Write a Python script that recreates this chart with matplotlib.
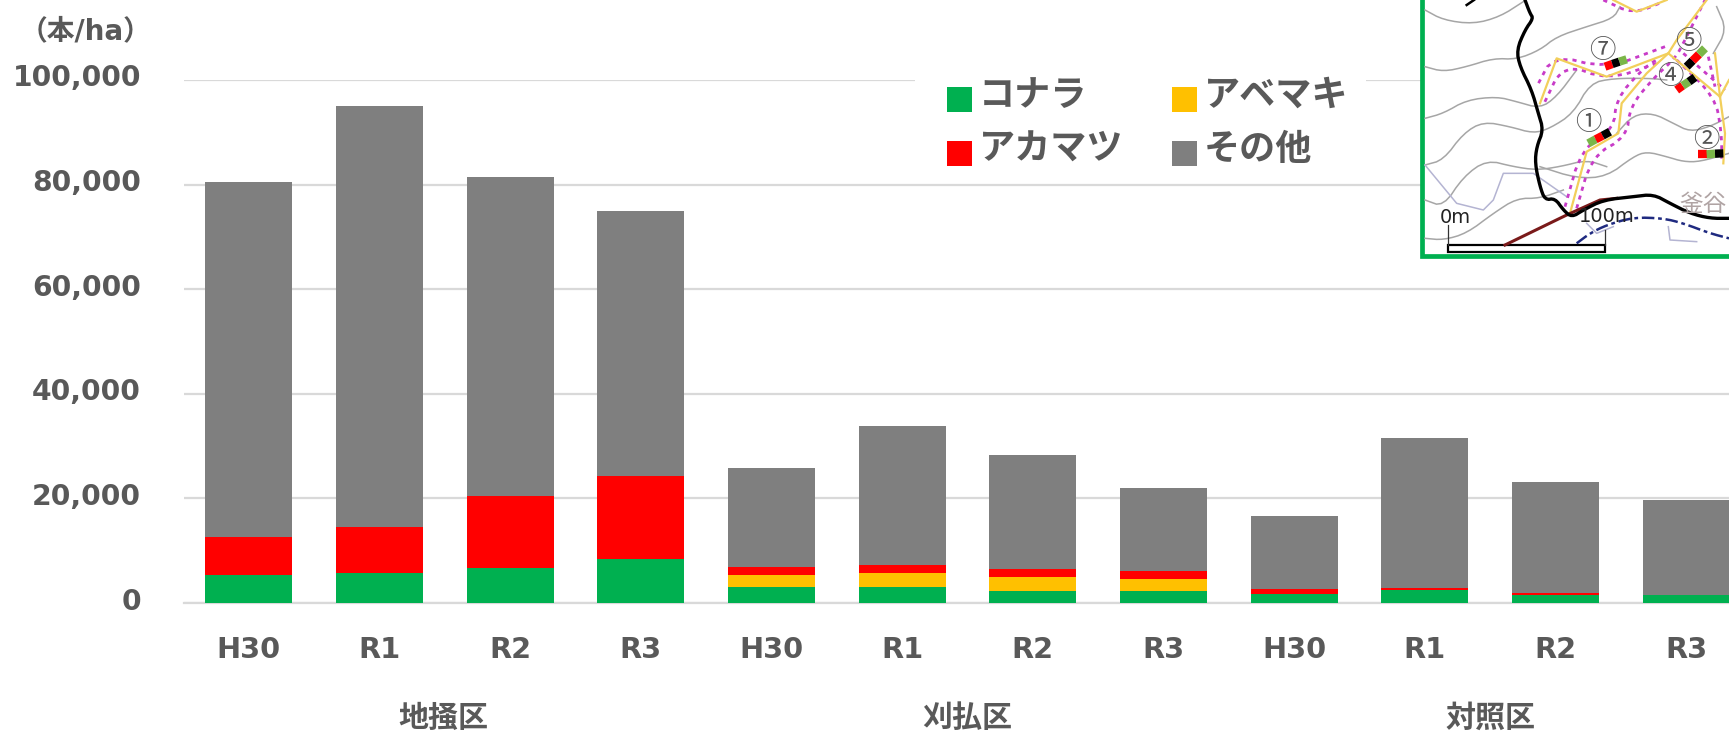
import matplotlib
matplotlib.use("Agg")
import numpy as np
import matplotlib.pyplot as plt
from matplotlib.patches import Rectangle
from matplotlib.transforms import ScaledTranslation

plt.rcParams['font.family'] = ['DejaVu Sans', 'Noto Sans CJK JP']

TEXT = '#595959'
GREEN = '#00B050'
YELLOW = '#FFC000'
RED = '#FF0000'
GRAY = '#7F7F7F'

years = ['H30', 'R1', 'R2', 'R3', 'H30', 'R1', 'R2', 'R3', 'H30', 'R1', 'R2', 'R3']
groups = ['地掻区', '刈払区', '対照区']
konara = [5300, 5800, 6600, 8500, 3000, 3000, 2200, 2200, 1800, 2400, 1500, 1500]
abemaki = [0, 0, 0, 0, 2300, 2700, 2800, 2300, 0, 0, 0, 0]
akamatsu = [7400, 8800, 13800, 15800, 1600, 1500, 1500, 1600, 900, 400, 500, 0]
sonota = [67800, 80400, 61100, 50700, 19000, 26700, 21800, 15800, 13900, 28800, 21100, 18200]
yticks = [0, 20000, 40000, 60000, 80000, 100000]

# site map sketch, coordinates in map crop units (3 units = 1 px)
contours = [
    [(75, 30), (130, 60), (220, 72), (300, 50), (370, 5)],
    [(75, 200), (130, 215), (200, 200), (280, 175), (350, 178), (420, 150), (470, 110), (560, 80), (640, 55), (660, 20)],
    [(75, 355), (130, 340), (200, 300), (290, 290), (350, 305), (420, 325), (470, 290), (530, 210)],
    [(75, 495), (130, 480), (190, 400), (250, 365), (330, 380), (400, 400), (450, 385), (520, 340), (570, 250), (640, 235), (750, 235), (800, 240)],
    [(75, 600), (130, 620), (190, 530), (260, 480), (340, 500), (410, 510), (480, 500), (560, 480), (620, 500)],
    [(420, 500), (530, 535), (620, 530), (700, 470), (740, 455), (800, 470), (850, 485), (900, 485), (987, 460)],
    [(650, 400), (700, 345), (760, 340), (820, 370), (870, 395), (930, 380), (987, 350)],
    [(75, 715), (130, 720), (200, 700), (280, 640), (350, 595), (420, 595), (490, 570)],
    [(940, 160), (980, 90), (950, 20)],
]
streams = [
    [(75, 495), (170, 610), (250, 630), (280, 600), (310, 520), (400, 520), (500, 590)],
    [(805, 680), (810, 720), (890, 725)],
    [(560, 670), (590, 700), (640, 680)],
]
boundary = [(375, 0), (390, 40), (400, 55), (375, 90), (350, 150), (360, 200), (395, 270), (415, 340), (430, 390),
            (410, 440), (405, 490), (420, 560), (435, 600), (465, 595), (490, 630), (515, 652), (550, 630), (610, 600),
            (700, 590), (760, 583), (810, 610), (870, 640), (930, 655), (987, 655)]
road = [(315, 735), (500, 645), (600, 600), (650, 595)]
river = [(530, 730), (570, 700), (620, 675), (700, 652), (790, 655), (850, 670), (930, 700), (987, 715)]
trails = [
    [(510, 640), (560, 455), (655, 400), (665, 310), (740, 220), (805, 160), (830, 120), (890, 40), (920, 0)],
    [(805, 160), (620, 230), (470, 175), (420, 310)],
    [(805, 160), (960, 290), (975, 400), (970, 490)],
    [(640, 0), (710, 35), (800, 0)],
    [(960, 290), (987, 240)],
    [(945, 160), (960, 290)],
]
fences = [
    [(530, 625), (575, 470), (680, 410), (690, 320), (760, 235), (825, 175), (850, 130), (915, 0)],
    [(495, 620), (545, 445), (640, 390), (650, 295), (725, 210), (775, 175)],
    [(795, 140), (620, 205), (460, 165), (410, 260)],
    [(770, 190), (625, 240), (490, 190), (430, 315)],
    [(610, 0), (700, 42), (790, 5)],
    [(830, 180), (945, 290), (965, 400), (965, 490)],
    [(850, 160), (975, 270)],
    [(925, 170), (945, 260)],
]
plots = [
    ([(565, 430), (587, 418), (608, 407), (630, 395)], ['#7AB648', RED, 'black']),
    ([(895, 463), (920, 463), (945, 461), (970, 460)], [RED, '#7AB648', 'black']),
    ([(615, 200), (637, 192), (658, 185), (680, 178)], [RED, 'black', '#7AB648']),
    ([(830, 270), (848, 257), (867, 245), (885, 232)], [RED, '#7AB648', 'black']),
    ([(860, 200), (878, 182), (897, 163), (915, 145)], ['black', RED, '#7AB648']),
]
plot_numbers = [('①', 565, 368), ('②', 918, 418), ('⑦', 606, 152), ('④', 812, 230), ('⑤', 866, 124)]


def smooth(pts, n=2):
    # corner cutting so the sketched lines do not look angular
    pts = np.array(pts, dtype=float)
    for _ in range(n):
        a = pts[:-1] * 0.75 + pts[1:] * 0.25
        b = pts[:-1] * 0.25 + pts[1:] * 0.75
        mid = np.empty((len(a) * 2, 2))
        mid[0::2] = a
        mid[1::2] = b
        pts = np.vstack([pts[:1], mid, pts[-1:]])
    return pts


def line(ax, pts, curve=False, **kw):
    p = smooth(pts) if curve else np.array(pts)
    ax.plot(p[:, 0], p[:, 1], **kw)


fig = plt.figure(figsize=(17.29, 7.31), dpi=100)
ax = fig.add_axes([184 / 1729, (731 - 603) / 731, 1 - 184 / 1729, 523 / 731])

x = np.arange(len(years))
bottom = np.zeros(len(years))
for vals, col in [(konara, GREEN), (abemaki, YELLOW), (akamatsu, RED), (sonota, GRAY)]:
    ax.bar(x, vals, width=0.666, bottom=bottom, color=col, zorder=3)
    bottom += np.array(vals)

ax.set_xlim((184 - 248.7) / 130.67, (1729 - 248.7) / 130.67)
ax.set_ylim(0, 100000)
ax.set_yticks(yticks)
ax.set_yticklabels([f'{v:,}' for v in yticks])
ax.set_xticks(x)
ax.set_xticklabels(years)
ax.tick_params(length=0, labelcolor=TEXT)
ax.tick_params(axis='y', pad=31, labelsize=20.3)
ax.tick_params(axis='x', pad=23.5, labelsize=20.8)
for lab in ax.get_yticklabels():
    lab.set_fontweight('bold')
    lab.set_transform(lab.get_transform() + ScaledTranslation(0, 0.045, fig.dpi_scale_trans))
for lab in ax.get_xticklabels():
    lab.set_fontweight('bold')
ax.grid(axis='y', color='#D9D9D9', lw=1.6, zorder=0)
ax.set_axisbelow(True)
for s in ax.spines.values():
    s.set_visible(False)
ax.spines['bottom'].set_visible(True)
ax.spines['bottom'].set_color('#D9D9D9')
ax.spines['bottom'].set_linewidth(1.6)

# overlay in pixel coordinates for legend, unit and group names
ov = fig.add_axes([0, 0, 1, 1], zorder=5)
ov.set_xlim(0, 1729)
ov.set_ylim(731, 0)
ov.axis('off')
ov.patch.set_alpha(0)
ov.text(86, 31, '（本/ha）', color=TEXT, fontsize=20, fontweight='bold', ha='center', va='center')
for name, gx in zip(groups, [443, 967, 1490]):
    ov.text(gx, 718, name, color=TEXT, fontsize=21.6, fontweight='bold', ha='center', va='center')

ov.add_patch(Rectangle((915, 70), 451, 110, fc='white', ec='none'))
legend_items = [('コナラ', GREEN, 947, 87), ('アベマキ', YELLOW, 1172, 87), ('アカマツ', RED, 947, 141), ('その他', GRAY, 1172, 141)]
for name, col, lx, ly in legend_items:
    ov.add_patch(Rectangle((lx, ly), 25, 25, fc=col, ec='none'))
    ov.text(lx + 32, ly + 9, name, color=TEXT, fontsize=26, fontweight='bold', ha='left', va='center')

# site map inset
mp = fig.add_axes([1400 / 1729, 1 - 270 / 731, 329 / 1729, 270 / 731], zorder=6)
mp.set_xlim(0, 987)
mp.set_ylim(810, 0)
mp.axis('off')
mp.add_patch(Rectangle((66, -10), 930, 778, fc='white', ec=GREEN, lw=3.4))
for c in contours:
    line(mp, c, curve=True, color='#A6A6A6', lw=1.1)
for c in streams:
    line(mp, c, color='#B4B4D2', lw=1.1)
for c in fences:
    line(mp, c, curve=True, color='#C83CC8', lw=2, ls=(0, (1.5, 1.8)))
for c in trails:
    line(mp, c, color='#F2CF5B', lw=1.6)
line(mp, road, color='#7A1A1A', lw=2.2)
line(mp, boundary, curve=True, color='black', lw=2.4)
line(mp, [(200, 15), (222, 0)], color='black', lw=1.8)
line(mp, river, curve=True, color='#1F2A80', lw=1.8, ls=(0, (5, 1.5, 1.5, 1.5)))
for pts, cols in plots:
    for i, col in enumerate(cols):
        line(mp, pts[i:i + 2], color=col, lw=6, solid_capstyle='butt')
for num, nx, ny in plot_numbers:
    mp.text(nx, ny, num, color='#555555', fontsize=19, ha='center', va='center',
            family=['Noto Sans CJK JP', 'DejaVu Sans'])
mp.text(838, 612, '釜谷', color='#B0A4A4', fontsize=17, ha='left', va='center')
mp.add_patch(Rectangle((145, 735), 470, 20, fc='white', ec='black', lw=1.6))
line(mp, [(145, 675), (145, 735)], color='#333333', lw=0.9)
line(mp, [(615, 690), (615, 735)], color='#333333', lw=0.9)
mp.text(166, 652, '0m', color='#222222', fontsize=14, ha='center', va='center')
mp.text(620, 650, '100m', color='#222222', fontsize=14, ha='center', va='center')

fig.savefig('out.png', dpi=100)
